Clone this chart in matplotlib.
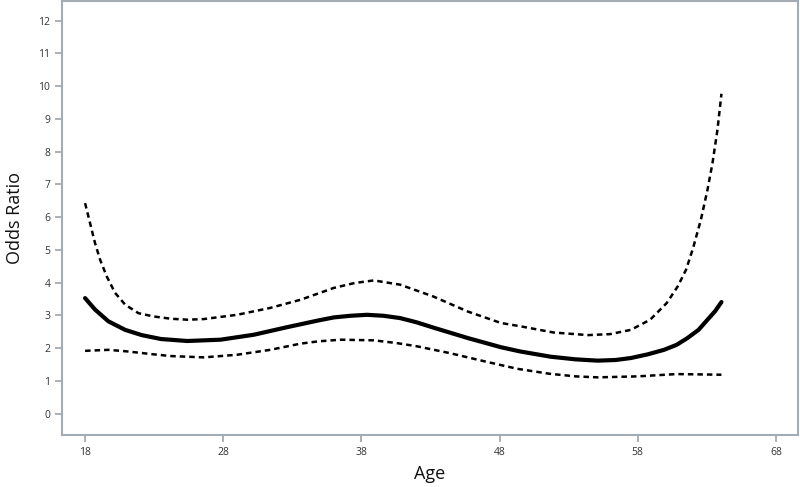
import matplotlib
matplotlib.use("Agg")
import matplotlib.pyplot as plt

plt.rcParams["font.family"] = ["Open Sans", "DejaVu Sans"]

# Odds ratio curve and 95% confidence bounds
or_age = [18, 18.72, 19.69, 20.9, 22.1, 23.5, 25.4, 27.8, 30.2, 32.6, 34.8,
          36.0, 37.2, 38.4, 39.6, 40.8, 42.0, 43.2, 45.7, 48.1, 49.5, 51.7,
          53.5, 55.1, 56.4, 57.5, 58.7, 59.9, 60.8, 61.6, 62.4, 63.05, 63.6,
          64.06]
or_val = [3.53, 3.18, 2.82, 2.56, 2.40, 2.28, 2.22, 2.26, 2.41, 2.64, 2.84,
          2.94, 2.99, 3.02, 2.99, 2.92, 2.79, 2.63, 2.31, 2.03, 1.90, 1.74,
          1.66, 1.62, 1.64, 1.70, 1.81, 1.95, 2.10, 2.31, 2.56, 2.87, 3.13,
          3.41]

upper_age = [18, 18.36, 18.72, 19.09, 19.57, 20.17, 20.9, 21.86, 22.95, 24.2,
             25.4, 26.6, 29.0, 31.4, 33.6, 36.0, 37.5, 38.9, 40.8, 43.2, 45.7,
             48.1, 49.5, 51.9, 54.4, 56.0, 57.5, 58.9, 60.1, 60.9, 61.5, 62.0,
             62.57, 63.05, 63.41, 63.77, 64.06]
upper_val = [6.43, 5.82, 5.21, 4.70, 4.19, 3.69, 3.33, 3.07, 2.97, 2.90,
             2.87, 2.89, 3.02, 3.23, 3.48, 3.84, 3.99, 4.07, 3.94, 3.58, 3.12,
             2.77, 2.67, 2.48, 2.40, 2.43, 2.56, 2.87, 3.38, 3.89, 4.40, 5.05,
             5.92, 6.84, 7.65, 8.67, 9.77]

lower_age = [18, 19.7, 21.1, 22.8, 24.2, 26.6, 29.0, 31.4, 33.6, 34.9, 36.5,
             38.9, 40.5, 42.0, 44.4, 46.9, 49.3, 51.6, 53.5, 55.1, 58.0, 60.8,
             62.5, 64.06]
lower_val = [1.92, 1.95, 1.90, 1.82, 1.76, 1.72, 1.80, 1.95, 2.14, 2.21, 2.26,
             2.24, 2.16, 2.06, 1.85, 1.60, 1.37, 1.22, 1.14, 1.11, 1.14, 1.21,
             1.20, 1.19]

x_ticks = [18, 28, 38, 48, 58, 68]
y_ticks = list(range(0, 13))

frame_color = "#a3abb3"
text_color = "#333333"

fig = plt.figure(figsize=(8, 4.87), dpi=100)
ax = fig.add_axes([0.0775, 0.1068, 0.92, 0.891])

ax.plot(upper_age, upper_val, color="black", lw=1.8, linestyle=(0, (2.2, 1.6)))
ax.plot(lower_age, lower_val, color="black", lw=1.8, linestyle=(0, (2.2, 1.6)))
ax.plot(or_age, or_val, color="black", lw=3.0, solid_capstyle="round",
        solid_joinstyle="round")

ax.set_xlim(16.33, 69.6)
ax.set_ylim(-0.65, 12.6)
ax.set_xticks(x_ticks)
ax.set_yticks(y_ticks)

for spine in ax.spines.values():
    spine.set_color(frame_color)
    spine.set_linewidth(1.5)
ax.tick_params(colors=frame_color, length=5, width=1.3, labelsize=7.5,
               labelcolor=text_color)

ax.set_xlabel("Age", fontsize=13, color="#111111", labelpad=5)
ax.set_ylabel("Odds Ratio", fontsize=13, color="#111111", labelpad=10)

plt.savefig("out.png", dpi=100, facecolor="white")
plt.close(fig)
